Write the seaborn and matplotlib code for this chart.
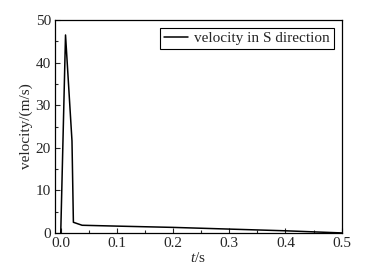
import matplotlib
matplotlib.use("Agg")
import matplotlib.pyplot as plt
import seaborn as sns
import pandas as pd
from matplotlib.ticker import MultipleLocator

# velocity in S direction
time_s = [0.0, 0.0085, 0.020, 0.0225, 0.038, 0.1, 0.2, 0.3, 0.4, 0.5]
velocity = [0.0, 46.5, 21.6, 2.5, 1.8, 1.6, 1.3, 0.9, 0.5, 0.0]

df = pd.DataFrame({"t": time_s, "v": velocity})

sns.set_style("ticks")
plt.rcParams["font.family"] = ["Liberation Serif", "DejaVu Serif"]
plt.rcParams["mathtext.fontset"] = "custom"
plt.rcParams["mathtext.it"] = "Liberation Serif:italic"
plt.rcParams["mathtext.rm"] = "Liberation Serif"

fig = plt.figure(figsize=(3.68, 2.75), dpi=100)
ax = fig.add_axes([0.1495, 0.153, 0.779, 0.774])

sns.lineplot(data=df, x="t", y="v", ax=ax, color="black", linewidth=1.1,
             label="velocity in S direction", sort=False)

ax.set_xlim(-0.0102, 0.5)
ax.set_ylim(0, 50)
ax.xaxis.set_major_locator(MultipleLocator(0.1))
ax.xaxis.set_minor_locator(MultipleLocator(0.05))
ax.yaxis.set_major_locator(MultipleLocator(10))
ax.yaxis.set_minor_locator(MultipleLocator(5))
ax.set_xticklabels([f"{v:.1f}" for v in ax.get_xticks()])
ax.tick_params(which="both", direction="in", labelsize=11,
               top=False, right=False, width=0.8)
ax.tick_params(axis="x", pad=3)
ax.tick_params(axis="y", pad=3)
ax.tick_params(which="major", length=3.5)
ax.tick_params(which="minor", length=2)
for s in ax.spines.values():
    s.set_linewidth(0.9)
    s.set_color("black")

ax.set_xlabel(r"$t$/s", fontsize=11, labelpad=1)
ax.set_ylabel("velocity/(m/s)", fontsize=11, labelpad=2)

leg = ax.legend(loc="upper right", fontsize=11, frameon=True, fancybox=False,
                edgecolor="black", handlelength=1.6, handletextpad=0.4,
                borderpad=0.25, borderaxespad=0.5, framealpha=1)
leg.get_frame().set_linewidth(0.8)

fig.savefig("out.png", dpi=100)
